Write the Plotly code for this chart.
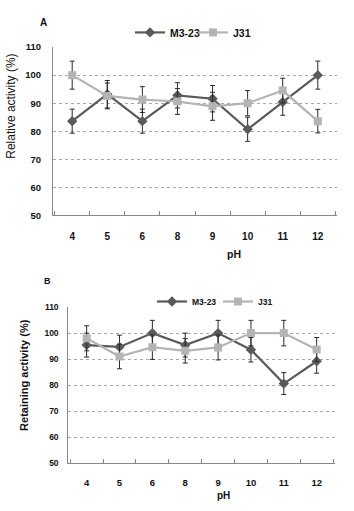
import plotly.graph_objects as go

ph = ["4", "5", "6", "8", "9", "10", "11", "12"]
yticks = [50, 60, 70, 80, 90, 100, 110]

a_m323 = [83.6, 93.2, 83.6, 92.8, 91.6, 80.7, 90.4, 100.0]
a_m323_err = [4.3, 4.9, 4.3, 4.5, 4.7, 4.3, 4.7, 5.0]
a_j31 = [100.0, 92.6, 91.3, 90.6, 88.9, 90.0, 94.5, 83.6]
a_j31_err = [5.0, 4.6, 4.6, 4.6, 5.0, 4.5, 4.4, 4.2]

b_m323 = [95.4, 94.7, 100.0, 95.4, 100.0, 93.6, 80.6, 89.2]
b_m323_err = [4.6, 4.5, 4.9, 4.6, 4.9, 4.7, 4.2, 4.6]
b_j31 = [98.0, 91.0, 94.6, 93.2, 94.5, 100.0, 100.0, 93.7]
b_j31_err = [4.8, 4.7, 4.7, 4.7, 4.8, 4.9, 4.9, 4.6]

DARK = "#5a5a5a"
LIGHT = "#b4b4b4"
FONT = "Liberation Sans"

W, H = 354, 511


def X(px):
    return px / W


def Y(py):
    return 1 - py / H


fig = go.Figure()


def add(x, y, err, name, color, symbol, size, xa, ya, legend):
    fig.add_trace(go.Scatter(
        x=x, y=y, name=name, mode="lines+markers",
        line=dict(color=color, width=2.2),
        marker=dict(symbol=symbol, size=size, color=color),
        error_y=dict(type="data", array=err, color="#2a2a2a", thickness=1, width=2.5),
        xaxis=xa, yaxis=ya, legend=legend,
    ))


add(ph, a_m323, a_m323_err, "M3-23", DARK, "diamond", 8, "x", "y", "legend")
add(ph, a_j31, a_j31_err, "J31", LIGHT, "square", 8, "x", "y", "legend2")
add(ph, b_m323, b_m323_err, "M3-23", DARK, "diamond", 8, "x2", "y2", "legend3")
add(ph, b_j31, b_j31_err, "J31", LIGHT, "square", 8, "x2", "y2", "legend4")


def xax(domain, anchor, size, standoff):
    return dict(domain=domain, anchor=anchor, type="category", showgrid=False, showline=True,
                linecolor="#888888", linewidth=1, ticks="inside", tickson="boundaries",
                ticklen=4, tickcolor="#888888", ticklabelstandoff=standoff,
                tickfont=dict(family=FONT, size=size, color="#111111", weight="bold"),
                zeroline=False)


def yax(domain, anchor, size, standoff):
    return dict(domain=domain, anchor=anchor, range=[50, 110], tickvals=yticks, showgrid=True,
                gridcolor="#a8a8a8", griddash="dot", gridwidth=1, showline=True,
                linecolor="#888888", linewidth=1, ticks="", ticklabelstandoff=standoff,
                tickfont=dict(family=FONT, size=size, color="#111111", weight="bold"),
                zeroline=False)


def leg(px, py, size):
    return dict(orientation="h", x=X(px), y=Y(py), xanchor="left", yanchor="middle",
                font=dict(family=FONT, size=size, color="#111111", weight="bold"),
                bgcolor="rgba(0,0,0,0)", itemwidth=30, borderwidth=0)


def ann(text, px, py, size, bold=True, angle=0):
    return dict(text=text, x=X(px), y=Y(py), xref="paper", yref="paper", showarrow=False,
                xanchor="center", yanchor="middle", textangle=angle,
                font=dict(family=FONT, size=size, color="#111111",
                          weight="bold" if bold else "normal"))


fig.update_layout(
    width=W, height=H, margin=dict(l=0, r=0, t=0, b=0),
    paper_bgcolor="white", plot_bgcolor="white",
    font=dict(family=FONT, color="#111111"),
    xaxis=xax([X(53), X(337)], "y", 10, 12),
    yaxis=yax([Y(214), Y(42)], "x", 9.5, 9),
    xaxis2=xax([X(68.3), X(335)], "y2", 9.5, 10),
    yaxis2=yax([Y(467.3), Y(307.7)], "x2", 8.5, 7),
    legend=leg(130, 27, 10.5),
    legend2=leg(193, 27, 10.5),
    legend3=leg(152, 302, 8.5),
    legend4=leg(218, 302, 8.5),
    showlegend=True,
    annotations=[
        ann("A", 43, 17, 10),
        ann("B", 47, 281, 9),
        ann("pH", 234, 253, 10.5),
        ann("pH", 223, 500, 10),
        ann("Relative activity (%)", 11, 103, 12, bold=False, angle=-90),
        ann("Retaining activity (%)", 24, 377, 11, bold=True, angle=-90),
    ],
)

fig.write_html("out.html", config={"displayModeBar": False},
               post_script="document.body.style.margin='0px';")
